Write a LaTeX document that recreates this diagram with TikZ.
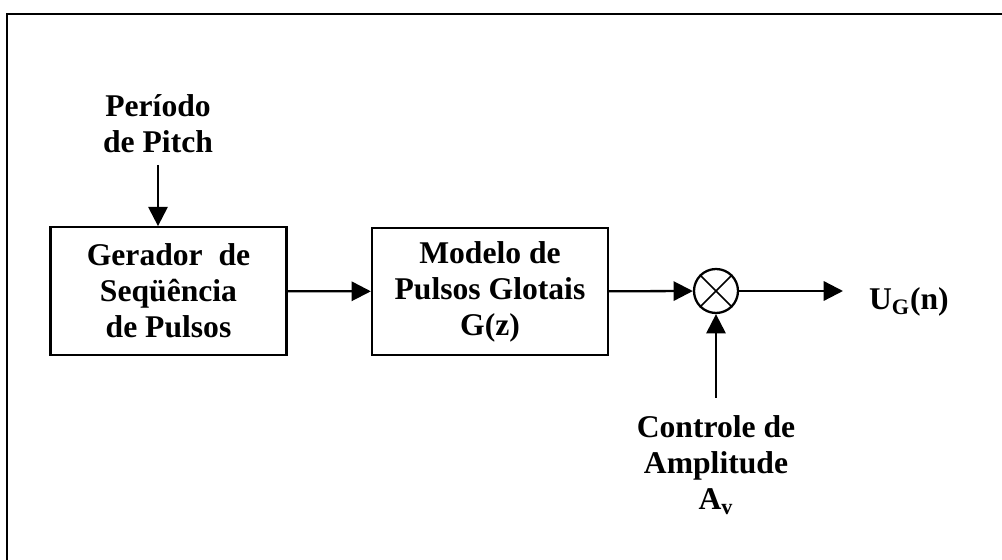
\documentclass[tikz,border=0pt]{standalone}
\usepackage{fontspec}
\setmainfont{Liberation Serif}
\usetikzlibrary{arrows.meta}

\begin{document}
\begin{tikzpicture}[x=0.02cm, y=-0.02cm, line width=1.3pt,
		every node/.style={font=\fontsize{18}{20.5}\selectfont\bfseries, align=center},
		bloco/.style={draw, minimum width=4.72cm, minimum height=2.55cm, inner sep=0pt},
		seta/.style={-{Triangle[length=11pt, width=11pt]}}]
			\useasboundingbox (0,0) rectangle (1002,560);

			% Frame
			\draw (1002,14) -- (7,14) -- (7,560);

			% Blocks
			\node[anchor=south, inner sep=6.5pt] (pitch) at (158,165) {Período\\de Pitch};
			\node[bloco] (gerador) at (168.5,291) {Gerador\ \ de\\Seqüência\\de Pulsos};
			\node[bloco] (modelo) at (490,291.5) {Modelo de\\Pulsos Glotais\\G(z)};
			\node[draw, circle, minimum size=0.88cm, inner sep=0pt] (mult) at (716,291) {};
			\draw[line width=1pt] (mult.north east) -- (mult.south west);
			\draw[line width=1pt] (mult.north west) -- (mult.south east);
			\node[anchor=north, inner sep=0pt, inner ysep=9.5pt] (ctrl) at (716,398) {Controle de\\Amplitude\\A\textsubscript{v}};
			\coordinate (saida) at (843,291);
			\node[anchor=base west, inner sep=0pt] (ug) at (868,310) {U\textsubscript{G}(n)};

			% Connections
			\draw[seta] (pitch.south) -- (pitch.south |- gerador.north);
			\draw[seta] (gerador) -- (modelo);
			\draw[seta] (modelo) -- (mult);
			\draw[seta] (mult) -- (saida);
			\draw[seta] (ctrl.north) -- (mult.south);
		\end{tikzpicture}
\end{document}
